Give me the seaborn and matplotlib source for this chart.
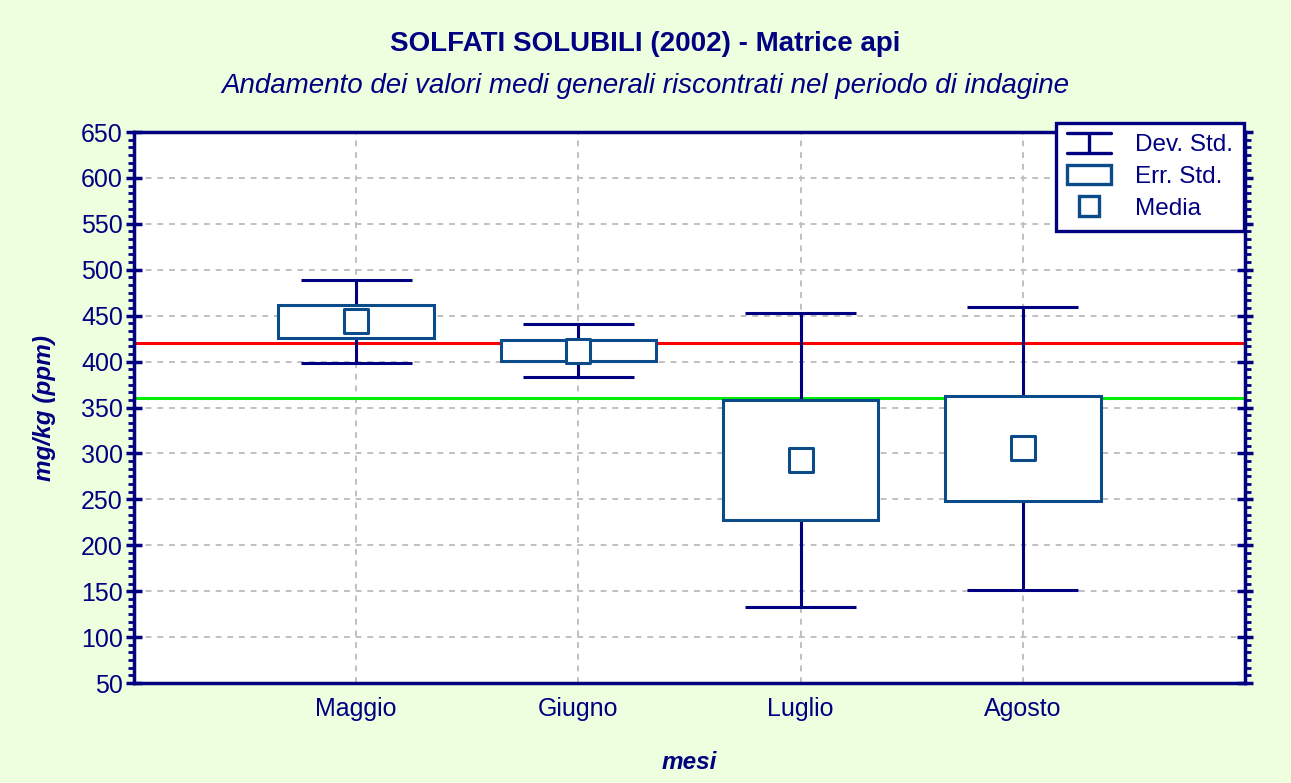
import numpy as np
import pandas as pd
import seaborn as sns
import matplotlib
matplotlib.use("Agg")
import matplotlib.pyplot as plt
from matplotlib.legend_handler import HandlerBase
from matplotlib.lines import Line2D
from matplotlib.patches import Rectangle
from matplotlib.ticker import MultipleLocator

# data
mesi = ["Maggio", "Giugno", "Luglio", "Agosto"]
media = [444, 412, 293, 305.5]
err_std = [18, 11.5, 65.5, 57]
dev_std = [45, 29, 160, 154]
soglia_rossa = 420
soglia_verde = 360

navy = "#000080"
blu = "#0b4b8a"
sfondo = "#eeffe0"

df = pd.DataFrame({"mese": mesi, "media": media, "se": err_std, "sd": dev_std})
df["x"] = np.arange(1, len(mesi) + 1)

sns.set_style("white")
plt.rcParams["font.family"] = ["Liberation Sans", "DejaVu Sans"]

fig = plt.figure(figsize=(12.91, 7.83), dpi=100, facecolor=sfondo)
ax = fig.add_axes([0.1038, 0.1277, 0.8606, 0.7037])
ax.set_facecolor("white")

# grid
ax.set_xlim(0, 5)
ax.set_ylim(50, 650)
ax.yaxis.set_major_locator(MultipleLocator(50))
ax.yaxis.set_minor_locator(MultipleLocator(50 / 6))
ax.set_xticks(df["x"])
ax.set_xticklabels(mesi)
ax.grid(True, which="major", color="#c0c0c0", linestyle=(0, (3, 3)), linewidth=1.4)
ax.set_axisbelow(True)

# reference lines
ax.axhline(soglia_rossa, color="#ff0000", lw=2.2, zorder=2)
ax.axhline(soglia_verde, color="#00ee00", lw=2.2, zorder=2)

# whiskers (dev. std.)
centro = df["x"]
ax.vlines(centro, df["media"] - df["sd"], df["media"] + df["sd"], color=navy, lw=2.2, zorder=3)
ax.hlines(df["media"] + df["sd"], centro - 0.25, centro + 0.25, color=navy, lw=2.2, zorder=3)
ax.hlines(df["media"] - df["sd"], centro - 0.25, centro + 0.25, color=navy, lw=2.2, zorder=3)

# boxes (err. std.)
ax.bar(centro, 2 * df["se"], bottom=df["media"] - df["se"], width=0.7,
       color="white", edgecolor=blu, linewidth=2.2, zorder=4)

# means
sns.scatterplot(data=df, x="x", y="media", marker="s", s=280, color="white",
                edgecolor=blu, linewidth=2.2, ax=ax, zorder=5, legend=False)

ax.set_xlabel("mesi", fontsize=17.5, fontweight="bold", fontstyle="italic", color=navy, labelpad=22)
ax.set_ylabel("mg/kg (ppm)", fontsize=17.5, fontweight="bold", fontstyle="italic", color=navy, labelpad=18)

for s in ax.spines.values():
    s.set_color(navy)
    s.set_linewidth(2.5)

ax.tick_params(axis="y", which="major", direction="inout", length=12, width=2.5,
               color=navy, labelcolor=navy, labelsize=18, right=True, left=True, pad=2)
ax.tick_params(axis="y", which="minor", direction="out", length=4, width=2,
               color=navy, right=True, left=True)
ax.tick_params(axis="x", which="major", direction="in", length=6, width=2,
               color=navy, labelcolor=navy, labelsize=18, pad=10)

fig.text(0.5, 0.944, "SOLFATI SOLUBILI (2002) - Matrice api", ha="center", va="center",
         fontsize=20, fontweight="bold", color=navy)
fig.text(0.5, 0.890, "Andamento dei valori medi generali riscontrati nel periodo di indagine",
         ha="center", va="center", fontsize=20, fontstyle="italic", color=navy)


class HandlerDev(HandlerBase):
    def create_artists(self, legend, orig, xd, yd, w, h, fontsize, trans):
        top = yd + h * 1.1
        bot = yd - h * 0.1
        cx = xd + w / 2
        return [Line2D([xd, xd + w], [top, top], color=navy, lw=2.4, transform=trans),
                Line2D([xd, xd + w], [bot, bot], color=navy, lw=2.4, transform=trans),
                Line2D([cx, cx], [bot, top], color=navy, lw=2.4, transform=trans)]


class HandlerBox(HandlerBase):
    def create_artists(self, legend, orig, xd, yd, w, h, fontsize, trans):
        return [Rectangle((xd, yd - h * 0.05), w, h * 1.1, facecolor="white", edgecolor=blu,
                          lw=2.4, transform=trans)]


dev_h = Line2D([], [])
box_h = Rectangle((0, 0), 1, 1)
mean_h = Line2D([], [], marker="s", linestyle="none", markersize=14, markerfacecolor="white",
                markeredgecolor=blu, markeredgewidth=2.4)
leg = ax.legend([dev_h, box_h, mean_h], ["Dev. Std.", "Err. Std.", "Media"],
                handler_map={dev_h: HandlerDev(), box_h: HandlerBox()},
                loc="upper right", bbox_to_anchor=(1.0, 1.018), fontsize=17.5, frameon=True,
                fancybox=False, edgecolor=navy, facecolor="white", framealpha=1,
                handlelength=1.8, handletextpad=1.0, borderpad=0.45, labelspacing=0.4,
                borderaxespad=0.05)
leg.get_frame().set_linewidth(2.4)
for t in leg.get_texts():
    t.set_color(navy)

fig.savefig("out.png", dpi=100, facecolor=sfondo)
